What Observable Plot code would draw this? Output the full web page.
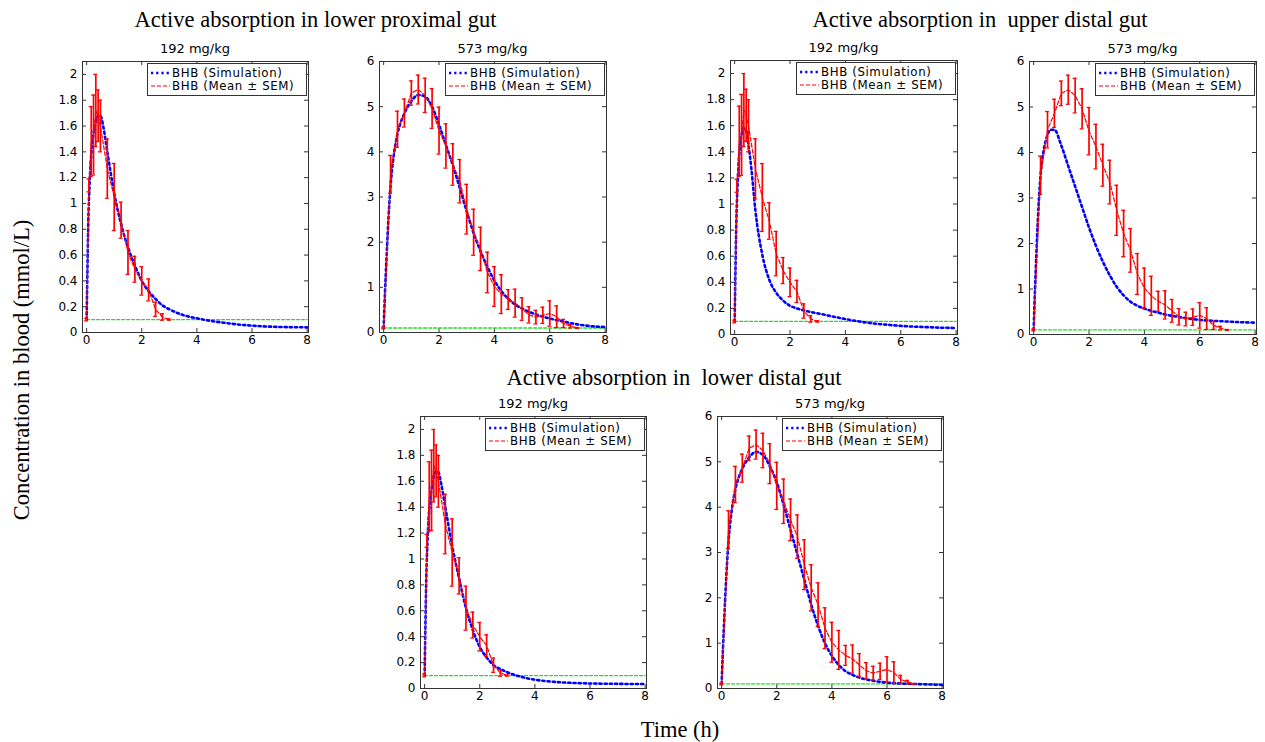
<!DOCTYPE html>
<html><head><meta charset="utf-8">
<script src="https://cdn.jsdelivr.net/npm/d3@7"></script>
<script src="https://cdn.jsdelivr.net/npm/@observablehq/plot@0.6"></script>
<style>
body{margin:0;background:#fff}
#fig{position:relative;width:1265px;height:742px;overflow:hidden;background:#fff}
#fig > div.panel{position:absolute}
#overlay{position:absolute;left:0;top:0;pointer-events:none}
</style></head>
<body><div id="fig"></div>
<script>
// ---------------- DATA ----------------
const rowTitles = ["Active absorption in lower proximal gut", "Active absorption in  upper distal gut", "Active absorption in  lower distal gut"];
const doseLabels = ["192 mg/kg", "573 mg/kg"];
const legendLabels = ["BHB (Simulation)", "BHB (Mean \u00B1 SEM)"];
const yLabel = "Concentration in blood (mmol/L)";
const xLabel = "Time (h)";

const xTicks = [0, 2, 4, 6, 8];
const yTicks192 = [0, 0.2, 0.4, 0.6, 0.8, 1, 1.2, 1.4, 1.6, 1.8, 2];
const yTicks573 = [0, 1, 2, 3, 4, 5, 6];

const lloqTimes = [0, 8];
const lloqValue = 0.1;

// Observed BHB, 192 mg/kg (mean, SEM)
const obsT192 = [0, 0.083, 0.167, 0.25, 0.333, 0.417, 0.5, 0.75, 1, 1.25, 1.5, 1.75, 2, 2.25, 2.5, 2.75, 3];
const obsM192 = [0.1, 1.14, 1.48, 1.53, 1.72, 1.68, 1.6, 1.27, 1.05, 0.87, 0.62, 0.49, 0.4, 0.33, 0.18, 0.12, 0.1];
const obsS192 = [0.01, 0.05, 0.27, 0.31, 0.28, 0.2, 0.2, 0.23, 0.26, 0.14, 0.17, 0.1, 0.11, 0.085, 0.055, 0.025, 0.005];

// Observed BHB, 573 mg/kg (mean, SEM)
const obsT573 = [0, 0.25, 0.5, 0.75, 1, 1.25, 1.5, 1.75, 2, 2.25, 2.5, 2.75, 3, 3.25, 3.5, 3.75, 4, 4.25, 4.5, 4.75, 5, 5.25, 5.5, 5.75, 6, 6.25, 6.5, 6.75, 7];
const obsM573 = [0.1, 3.5, 4.5, 4.86, 5.3, 5.38, 5.25, 4.96, 4.47, 4.13, 3.72, 3.35, 2.73, 2.22, 1.85, 1.33, 1.02, 0.85, 0.73, 0.65, 0.52, 0.39, 0.34, 0.38, 0.42, 0.35, 0.2, 0.14, 0.1];
const obsS573 = [0.02, 0.42, 0.4, 0.31, 0.27, 0.32, 0.38, 0.44, 0.52, 0.49, 0.46, 0.48, 0.55, 0.51, 0.48, 0.45, 0.44, 0.43, 0.22, 0.31, 0.25, 0.18, 0.15, 0.18, 0.28, 0.24, 0.09, 0.04, 0.01];

// Simulated BHB, 192 mg/kg
const simT192 = [0, 0.03, 0.06, 0.1, 0.15, 0.2, 0.25, 0.33, 0.42, 0.5, 0.6, 0.75, 1, 1.25, 1.5, 1.75, 2, 2.25, 2.5, 2.75, 3, 3.5, 4, 4.5, 5, 5.5, 6, 6.5, 7, 7.5, 8];
const simA192 = [0.1, 0.5, 0.85, 1.12, 1.32, 1.45, 1.54, 1.63, 1.68, 1.68, 1.6, 1.4, 1.08, 0.84, 0.66, 0.52, 0.4, 0.32, 0.26, 0.21, 0.18, 0.135, 0.11, 0.09, 0.075, 0.062, 0.053, 0.047, 0.043, 0.041, 0.04];
const simB192 = [0.1, 0.5, 0.85, 1.12, 1.33, 1.46, 1.53, 1.58, 1.56, 1.45, 1.28, 0.95, 0.61, 0.42, 0.32, 0.26, 0.22, 0.2, 0.185, 0.172, 0.162, 0.14, 0.118, 0.1, 0.085, 0.075, 0.066, 0.06, 0.056, 0.052, 0.05];
const simC192 = [0.1, 0.5, 0.85, 1.12, 1.32, 1.45, 1.54, 1.63, 1.68, 1.67, 1.58, 1.4, 1.1, 0.85, 0.62, 0.45, 0.32, 0.24, 0.18, 0.15, 0.125, 0.09, 0.068, 0.055, 0.047, 0.042, 0.039, 0.037, 0.036, 0.035, 0.035];

// Simulated BHB, 573 mg/kg
const simT573 = [0, 0.05, 0.1, 0.15, 0.25, 0.35, 0.5, 0.6, 0.75, 1, 1.25, 1.5, 1.75, 2, 2.25, 2.5, 2.75, 3, 3.25, 3.5, 3.75, 4, 4.25, 4.5, 4.75, 5, 5.5, 6, 6.5, 7, 7.5, 8];
const simA573 = [0.1, 0.9, 1.6, 2.25, 3.25, 3.85, 4.4, 4.62, 4.85, 5.12, 5.26, 5.22, 5.0, 4.6, 4.15, 3.7, 3.2, 2.68, 2.2, 1.8, 1.45, 1.15, 0.92, 0.75, 0.62, 0.53, 0.4, 0.31, 0.24, 0.18, 0.14, 0.12];
const simB573 = [0.1, 1.0, 1.8, 2.5, 3.5, 4.0, 4.38, 4.5, 4.5, 4.15, 3.7, 3.25, 2.8, 2.35, 1.95, 1.6, 1.3, 1.05, 0.86, 0.72, 0.63, 0.57, 0.52, 0.48, 0.44, 0.41, 0.36, 0.32, 0.3, 0.285, 0.27, 0.26];
const simC573 = [0.1, 0.9, 1.6, 2.25, 3.25, 3.85, 4.4, 4.62, 4.85, 5.1, 5.22, 5.15, 4.9, 4.55, 4.05, 3.5, 2.95, 2.4, 1.85, 1.38, 1.0, 0.72, 0.52, 0.38, 0.3, 0.24, 0.17, 0.13, 0.11, 0.1, 0.09, 0.08];

// ---------------- BUILD ----------------
const obs192 = obsT192.map((t, i) => ({t, m: obsM192[i], s: obsS192[i]}));
const obs573 = obsT573.map((t, i) => ({t, m: obsM573[i], s: obsS573[i]}));
const mkSim = (T, V) => T.map((t, i) => ({t, v: V[i]}));

// layout: frame boxes in page pixels
const panels = [
  {dose: 0, sim: mkSim(simT192, simA192), L: 82,   R: 308,  T: 61,  B: 332},
  {dose: 1, sim: mkSim(simT573, simA573), L: 379,  R: 606,  T: 61,  B: 332},
  {dose: 0, sim: mkSim(simT192, simB192), L: 730,  R: 957,  T: 60,  B: 334},
  {dose: 1, sim: mkSim(simT573, simB573), L: 1029, R: 1256, T: 61,  B: 334},
  {dose: 0, sim: mkSim(simT192, simC192), L: 420,  R: 646,  T: 416, B: 688},
  {dose: 1, sim: mkSim(simT573, simC573), L: 717,  R: 943,  T: 416, B: 688}
];

const fig = document.getElementById("fig");
const frameColor = "#333";
const blue = "#0000ff", red = "#ff0000", green = "#1ee01e";
const ml = 40, mr = 4, mt = 4, mb = 22;

for (const p of panels) {
  const fw = p.R - p.L, fh = p.B - p.T;
  const obs = p.dose === 0 ? obs192 : obs573;
  const yT = p.dose === 0 ? yTicks192 : yTicks573;
  const ymax = p.dose === 0 ? 2.1 : 6;
  const chart = Plot.plot({
    width: fw + ml + mr, height: fh + mt + mb,
    marginLeft: ml, marginRight: mr, marginTop: mt, marginBottom: mb,
    style: {fontFamily: "'DejaVu Sans', sans-serif", fontSize: "12px", color: "#000", background: "transparent", overflow: "visible"},
    x: {domain: [-0.15, 8.05], ticks: xTicks, label: null},
    y: {domain: [0, ymax], ticks: yT, label: null},
    marks: [
      Plot.tickY(yT, {y: d => d, insetRight: fw - 4, stroke: frameColor}),
      Plot.tickY(yT, {y: d => d, insetLeft: fw - 4, stroke: frameColor}),
      Plot.tickX(xTicks, {x: d => d, insetTop: fh - 4, stroke: frameColor}),
      Plot.tickX(xTicks, {x: d => d, insetBottom: fh - 4, stroke: frameColor}),
      Plot.line(lloqTimes, {x: d => d, y: () => lloqValue, stroke: green, strokeWidth: 1.3, strokeDasharray: "3,2"}),
      Plot.line(p.sim, {x: "t", y: "v", stroke: blue, strokeWidth: 2.6, strokeDasharray: "2.2,3", curve: "monotone-x"}),
      Plot.line(obs, {x: "t", y: "m", stroke: red, strokeWidth: 1.2, strokeDasharray: "4,2"}),
      Plot.ruleX(obs, {x: "t", y1: d => d.m - d.s, y2: d => d.m + d.s, stroke: red, strokeWidth: 1.7}),
      Plot.ruleY(obs, {y: d => d.m + d.s, x1: d => d.t - 0.07, x2: d => d.t + 0.07, stroke: red, strokeWidth: 1.3}),
      Plot.ruleY(obs, {y: d => d.m - d.s, x1: d => d.t - 0.07, x2: d => d.t + 0.07, stroke: red, strokeWidth: 1.3}),
      Plot.frame({stroke: frameColor}),
      Plot.axisX({ticks: xTicks, tickSize: 0, tickPadding: 3, label: null, tickFormat: d => String(d)}),
      Plot.axisY({ticks: yT, tickSize: 0, tickPadding: 5, label: null, tickFormat: d => String(d)})
    ]
  });
  const wrap = document.createElement("div");
  wrap.className = "panel";
  wrap.style.left = (p.L - ml) + "px";
  wrap.style.top = (p.T - mt) + "px";
  wrap.appendChild(chart);
  fig.appendChild(wrap);
}

// overlay: titles, labels, legends
const svg = d3.select(fig).append("svg").attr("id", "overlay").attr("width", 1265).attr("height", 742);
const serif = "'Liberation Serif', 'Times New Roman', serif";
const sans = "'DejaVu Sans', sans-serif";

const titlePos = [[315.5, 27], [980, 27], [674, 385]];
rowTitles.forEach((t, i) => {
  svg.append("text").attr("x", titlePos[i][0]).attr("y", titlePos[i][1])
    .attr("text-anchor", "middle").attr("font-family", serif).attr("font-size", 22.5)
    .style("white-space", "pre").attr("xml:space", "preserve").text(t);
});
svg.append("text").attr("transform", "translate(29,370) rotate(-90)")
  .attr("text-anchor", "middle").attr("font-family", serif).attr("font-size", 22.5).text(yLabel);
svg.append("text").attr("x", 680).attr("y", 737)
  .attr("text-anchor", "middle").attr("font-family", serif).attr("font-size", 22.5).text(xLabel);

for (const p of panels) {
  svg.append("text").attr("x", (p.L + p.R) / 2).attr("y", p.T - 8.5)
    .attr("text-anchor", "middle").attr("font-family", sans).attr("font-size", 13).text(doseLabels[p.dose]);
  const lw = 159, lh = 32;
  const x0 = p.R - 2 - lw, y0 = p.T + 2;
  const g = svg.append("g");
  g.append("rect").attr("x", x0 + 0.5).attr("y", y0 + 0.5).attr("width", lw).attr("height", lh)
    .attr("fill", "#fff").attr("stroke", frameColor).attr("stroke-width", 1);
  const rows = [
    {y: y0 + 10, stroke: blue, w: 2.6, dash: "2.2,3", label: legendLabels[0]},
    {y: y0 + 23, stroke: red, w: 1.2, dash: "4,2", label: legendLabels[1]}
  ];
  for (const r of rows) {
    g.append("line").attr("x1", x0 + 4).attr("x2", x0 + 23).attr("y1", r.y).attr("y2", r.y)
      .attr("stroke", r.stroke).attr("stroke-width", r.w).attr("stroke-dasharray", r.dash);
    g.append("text").attr("x", x0 + 25).attr("y", r.y + 4.3)
      .attr("font-family", sans).attr("font-size", 11.8).attr("letter-spacing", 0.6).text(r.label);
  }
}
</script></body></html>
